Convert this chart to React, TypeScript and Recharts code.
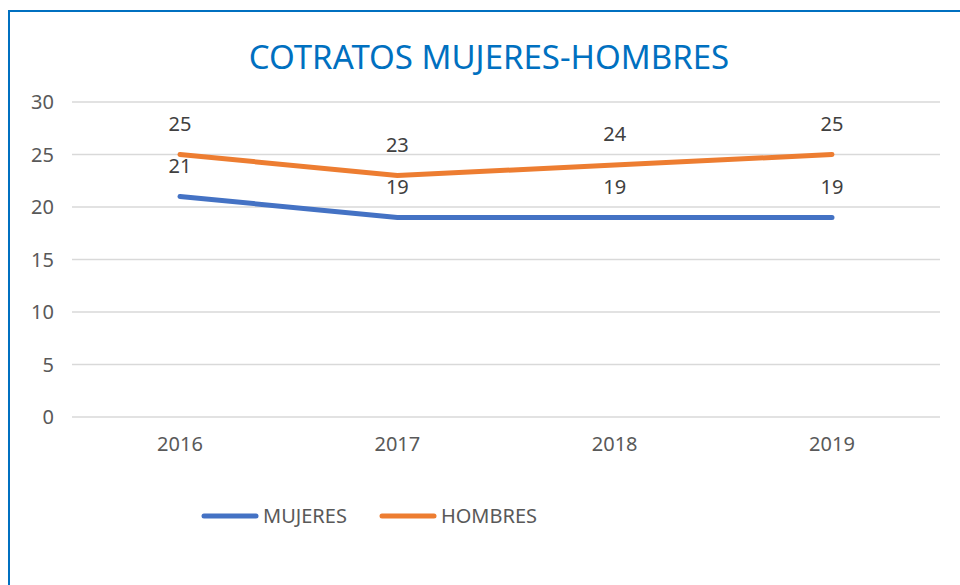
import { LineChart, Line, XAxis, YAxis, CartesianGrid, Legend, LabelList } from 'recharts';

const years = ['2016', '2017', '2018', '2019'];
const mujeres = [21, 19, 19, 19];
const hombres = [25, 23, 24, 25];
const yTicks = [0, 5, 10, 15, 20, 25, 30];
const seriesOrder = ['MUJERES', 'HOMBRES'];

const data = years.map((y, i) => ({ year: y, MUJERES: mujeres[i], HOMBRES: hombres[i] }));

const FONT = '"Noto Sans", "Open Sans", sans-serif';
const TEXT = '#595959';

function LegendContent({ payload }: any) {
  const items = [...(payload || [])].sort((a: any, b: any) => seriesOrder.indexOf(a.value) - seriesOrder.indexOf(b.value));
  return (
    <div style={{ display: 'flex', alignItems: 'center', fontFamily: FONT, fontSize: 20, color: TEXT }}>
      {items.map((p: any, i: number) => (
        <div key={i} style={{ display: 'flex', alignItems: 'center', marginRight: i === 0 ? 32 : 0 }}>
          <svg width={58} height={8} style={{ marginRight: 4 }}>
            <line x1={3} y1={4} x2={55} y2={4} stroke={p.color} strokeWidth={5} strokeLinecap="round" />
          </svg>
          <span>{p.value}</span>
        </div>
      ))}
    </div>
  );
}

export default function App() {
  return (
    <div style={{ position: 'absolute', left: 0, top: 0, width: 960, height: 585, overflow: 'hidden', background: '#fff' }}>
      <div style={{ position: 'absolute', left: 8, top: 10, width: 1000, height: 700, border: '2px solid #0070C0', boxSizing: 'border-box' }} />
      <div style={{ position: 'absolute', left: 0, top: 34, width: 978, textAlign: 'center', fontFamily: FONT, fontSize: 33, color: '#0070C0' }}>
        COTRATOS MUJERES-HOMBRES
      </div>
      <div style={{ position: 'absolute', left: 0, top: 0 }}>
        <LineChart width={960} height={585} data={data} margin={{ top: 102, right: 20, bottom: 111, left: 0 }}>
          <CartesianGrid vertical={false} stroke="#d9d9d9" strokeWidth={1.5} />
          <XAxis dataKey="year" axisLine={false} tickLine={false} tickSize={0} tickMargin={20} height={30}
            padding={{ left: 108, right: 108 }}
            tick={{ fill: TEXT, fontSize: 20, fontFamily: FONT }} />
          <YAxis domain={[0, 30]} ticks={yTicks} axisLine={false} tickLine={false} tickSize={0} tickMargin={18} width={72}
            tick={{ fill: TEXT, fontSize: 20, fontFamily: FONT }} />
          <Legend content={<LegendContent />} wrapperStyle={{ position: 'absolute', left: 201, top: 502, width: 'auto' }} />
          <Line dataKey="MUJERES" stroke="#4472C4" strokeWidth={5} dot={false} isAnimationActive={false} strokeLinecap="round">
            <LabelList dataKey="MUJERES" position="top" offset={24} fill="#404040" fontSize={20} fontFamily={FONT} />
          </Line>
          <Line dataKey="HOMBRES" stroke="#ED7D31" strokeWidth={5} dot={false} isAnimationActive={false} strokeLinecap="round">
            <LabelList dataKey="HOMBRES" position="top" offset={24} fill="#404040" fontSize={20} fontFamily={FONT} />
          </Line>
        </LineChart>
      </div>
    </div>
  );
}
